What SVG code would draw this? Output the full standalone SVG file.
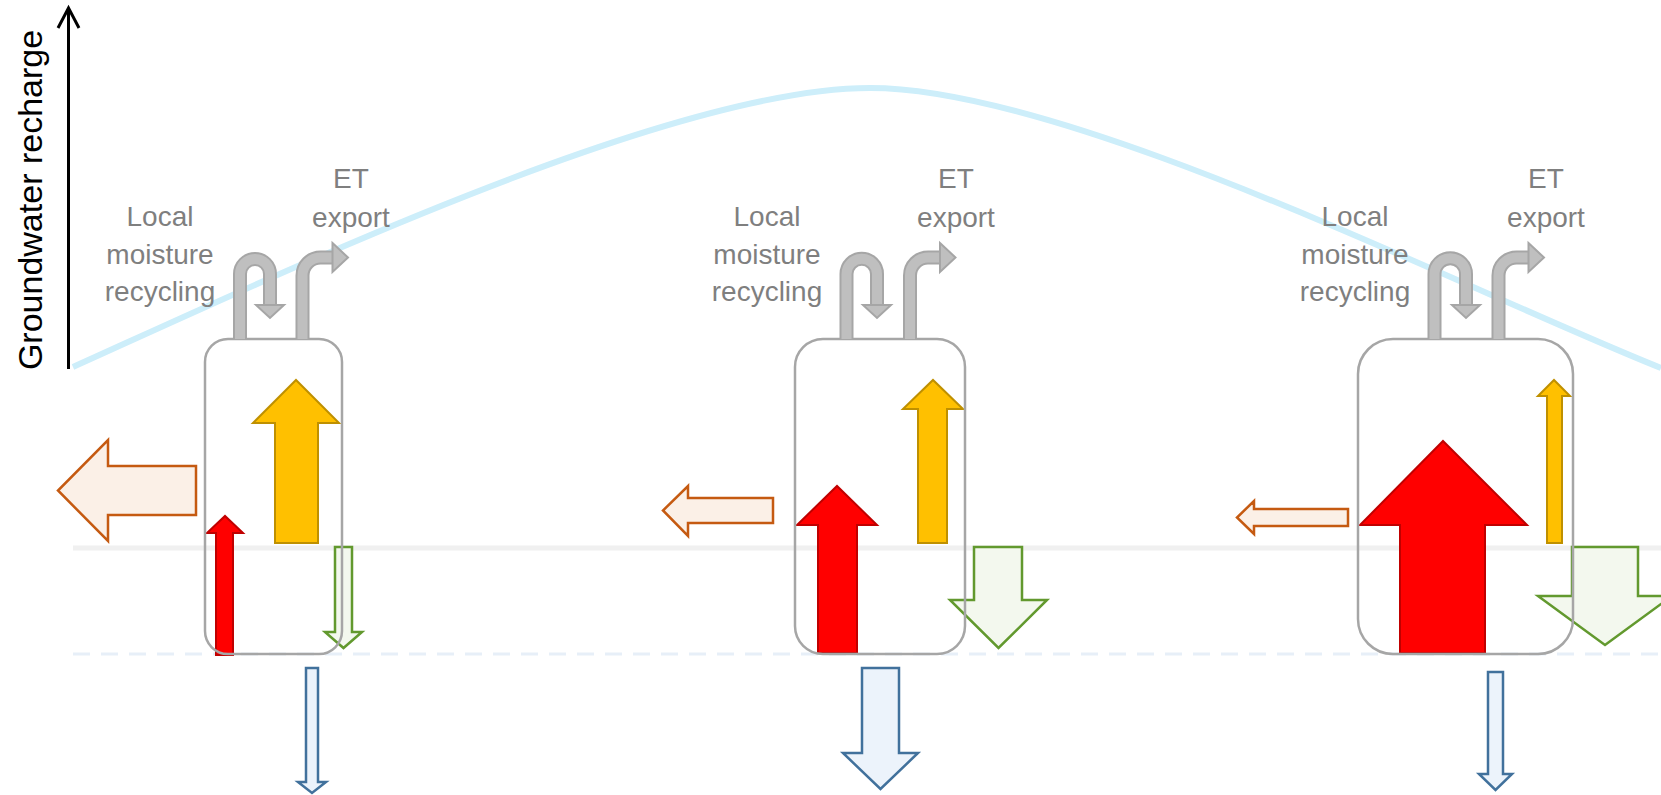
<svg xmlns="http://www.w3.org/2000/svg" width="1661" height="795" viewBox="0 0 1661 795">
<style>
.lbl{font-family:"Liberation Sans",Arial,sans-serif;font-size:28px;fill:#7f7f7f;text-anchor:middle}
.axis-t{font-family:"Liberation Sans",Arial,sans-serif;font-size:34px;fill:#000;text-anchor:middle}
.box{fill:none;stroke:#a6a6a6;stroke-width:2.5}
.yel{fill:#ffc000;stroke:#bf9000;stroke-width:2;stroke-linejoin:miter}
.red{fill:#ff0000;stroke:#c00000;stroke-width:2}
.brn{fill:#fbf0e7;stroke:#c55a11;stroke-width:2.5}
.grn{fill:#f3f8ee;stroke:#62992e;stroke-width:2.5}
.blu{fill:#ecf3fb;stroke:#41719c;stroke-width:2.5}
.gout{fill:none;stroke:#a6a6a6;stroke-width:14}
.gin{fill:none;stroke:#bfbfbf;stroke-width:10}
.ghead{fill:#bfbfbf;stroke:#a6a6a6;stroke-width:2;stroke-linejoin:miter}
</style>

<g id="recharge-curve">
<path d="M73,367 C273,277 670,88 870,88 C1070,88 1461,288 1661,368" fill="none" stroke="#cdeefa" stroke-width="6"/>
</g>

<g id="levels">
<line x1="73" y1="548" x2="1661" y2="548" stroke="#f0f0f0" stroke-width="5"/>
<line x1="73" y1="654" x2="1661" y2="654" stroke="#e7eff8" stroke-width="3" stroke-dasharray="17 11"/>
</g>

<g id="axis">
<line x1="68.5" y1="369" x2="68.5" y2="9" stroke="#000" stroke-width="3"/>
<polyline points="58,28 68.5,8 79,28" fill="none" stroke="#000" stroke-width="3"/>
<text class="axis-t" transform="translate(42,200) rotate(-90)">Groundwater recharge</text>
</g>

<g id="col1-flows">
<polygon class="brn" points="196,466 108,466 108,440 58,490.5 108,541 108,515 196,515"/>
<polygon class="yel" points="275,543 275,423 253,423 296,380 339,423 318,423 318,543"/>
<polygon class="red" points="216,655 216,533 207,533 225,516 243,533 233,533 233,655"/>
<polygon class="grn" points="335,547 352,547 352,632 362,632 343.5,648 325,632 335,632"/>
<polygon class="blu" points="306,668 318,668 318,782 326,782 312,793 298,782 306,782"/>
</g>
<g id="col2-flows">
<polygon class="brn" points="773,498 688,498 688,486 663,510.5 688,536 688,523 773,523"/>
<polygon class="yel" points="918,543 918,409 903,409 933,380 963,409 947,409 947,543"/>
<polygon class="red" points="818,653 818,525 797,525 837,486 877,525 857,525 857,653"/>
<polygon class="grn" points="974,547 1022,547 1022,600 1047,600 998.5,648 950,600 974,600"/>
<polygon class="blu" points="862,668 899,668 899,753 918,753 880.5,789 843,753 862,753"/>
</g>
<g id="col3-flows">
<polygon class="brn" points="1348,509 1254,509 1254,501 1237,517.5 1254,534 1254,526 1348,526"/>
<polygon class="yel" points="1547,543 1547,396 1538,396 1554,380 1570,396 1562,396 1562,543"/>
<polygon class="red" points="1400,653 1400,525 1360,525 1443,441 1527,525 1485,525 1485,653"/>
<polygon class="grn" points="1572,547 1638,547 1638,596 1672,596 1605,645 1538,596 1572,596"/>
<polygon class="blu" points="1488,672 1503,672 1503,774 1512,774 1495.5,790 1479,774 1488,774"/>
</g>

<g id="col1-box"><rect class="box" x="205" y="339" width="137" height="315" rx="23"/></g>
<g id="col2-box"><rect class="box" x="795" y="339" width="170" height="315" rx="28"/></g>
<g id="col3-box"><rect class="box" x="1358" y="339" width="215" height="315" rx="35"/></g>

<g id="col1-recycling">
<path class="gout" d="M240,339 V274 A15,15 0 0 1 270,274 V306"/>
<path class="gin" d="M240,339 V274 A15,15 0 0 1 270,274 V306"/>
<polygon class="ghead" points="256,305 284,305 270,318"/>
</g>
<g id="col1-export">
<path class="gout" d="M302.5,339 V275.5 A18,18 0 0 1 320.5,257.5 H333"/>
<path class="gin" d="M302.5,339 V275.5 A18,18 0 0 1 320.5,257.5 H333"/>
<polygon class="ghead" points="332.5,243 348,257.5 332.5,272"/>
</g>
<g id="col2-recycling">
<path class="gout" d="M846.5,339 V274 A15.25,15.25 0 0 1 877,274 V306"/>
<path class="gin" d="M846.5,339 V274 A15.25,15.25 0 0 1 877,274 V306"/>
<polygon class="ghead" points="863,305 891,305 877,318"/>
</g>
<g id="col2-export">
<path class="gout" d="M910,339 V275.5 A18,18 0 0 1 928,257.5 H941"/>
<path class="gin" d="M910,339 V275.5 A18,18 0 0 1 928,257.5 H941"/>
<polygon class="ghead" points="940,243 955.5,257.5 940,272"/>
</g>
<g id="col3-recycling">
<path class="gout" d="M1434.5,339 V274 A15.75,15.75 0 0 1 1466,274 V306"/>
<path class="gin" d="M1434.5,339 V274 A15.75,15.75 0 0 1 1466,274 V306"/>
<polygon class="ghead" points="1452,305 1480,305 1466,318"/>
</g>
<g id="col3-export">
<path class="gout" d="M1498.5,339 V275.5 A18,18 0 0 1 1516.5,257.5 H1529"/>
<path class="gin" d="M1498.5,339 V275.5 A18,18 0 0 1 1516.5,257.5 H1529"/>
<polygon class="ghead" points="1528.5,243 1544,257.5 1528.5,272"/>
</g>

<g id="col1-labels">
<text class="lbl" x="160" y="226">Local</text>
<text class="lbl" x="160" y="264">moisture</text>
<text class="lbl" x="160" y="301">recycling</text>
<text class="lbl" x="351" y="188">ET</text>
<text class="lbl" x="351" y="227">export</text>
</g>
<g id="col2-labels">
<text class="lbl" x="767" y="226">Local</text>
<text class="lbl" x="767" y="264">moisture</text>
<text class="lbl" x="767" y="301">recycling</text>
<text class="lbl" x="956" y="188">ET</text>
<text class="lbl" x="956" y="227">export</text>
</g>
<g id="col3-labels">
<text class="lbl" x="1355" y="226">Local</text>
<text class="lbl" x="1355" y="264">moisture</text>
<text class="lbl" x="1355" y="301">recycling</text>
<text class="lbl" x="1546" y="188">ET</text>
<text class="lbl" x="1546" y="227">export</text>
</g>
</svg>
